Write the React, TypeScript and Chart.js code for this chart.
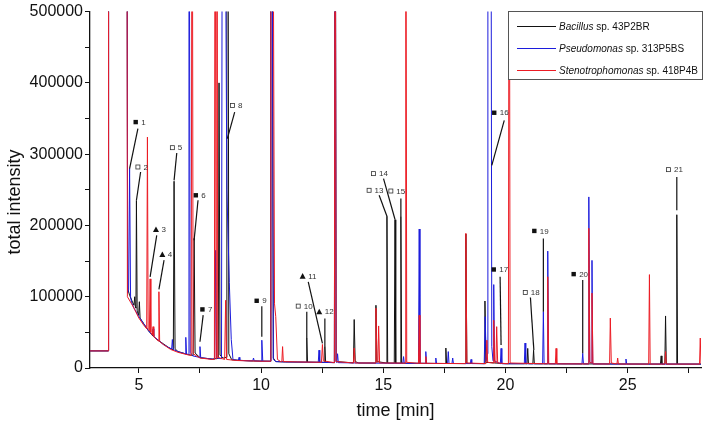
import React, { useEffect, useRef } from 'react';
import { Chart, registerables } from 'chart.js';

Chart.register(...registerables);

const X_MIN = 3;
const X_MAX = 28;
const Y_MIN = 0;
const Y_MAX = 500000;

const xTickValues = [5, 7.5, 10, 12.5, 15, 17.5, 20, 22.5, 25, 27.5];
const xTickLabels = ['5', '', '10', '', '15', '', '20', '', '25', ''];
const yTickValues = [0, 50000, 100000, 150000, 200000, 250000, 300000, 350000, 400000, 450000, 500000];
const yTickLabels = ['0', '', '100000', '', '200000', '', '300000', '', '400000', '', '500000'];

const xTitle = 'time [min]';
const yTitle = 'total intensity';

const seriesGenus = ['Bacillus', 'Pseudomonas', 'Stenotrophomonas'];
const seriesStrain = [' sp. 43P2BR', ' sp. 313P5BS', ' sp. 418P4B'];
const seriesColors = ['#121212', '#1c1cdc', '#ec1c24'];

// [time (min), total intensity]
const bacillusTrace: [number, number][] = [
  [3.0, 24000], [3.74, 24000], [3.76, 900000], [4.51, 900000], [4.54, 112000],
  [4.62, 102000], [4.72, 94000], [4.80, 88000], [4.83, 100000], [4.86, 85000],
  [4.88, 84000], [4.90, 235000], [4.93, 80000], [4.99, 74000], [5.02, 93000],
  [5.05, 70000], [5.2, 62000], [5.4, 52000], [5.6, 44000], [5.8, 38500],
  [6.0, 34000], [6.2, 29000], [6.41, 25500], [6.44, 262000], [6.48, 27000],
  [6.6, 23000], [7.0, 19000], [7.22, 17500], [7.26, 182000], [7.30, 21000],
  [7.5, 14500], [8.0, 12500], [8.25, 13500], [8.28, 400000], [8.32, 18000],
  [8.45, 14000], [8.57, 15000], [8.60, 900000], [8.64, 900000], [8.68, 20000], [8.8, 11500],
  [9.5, 10000], [10.37, 9500], [10.40, 900000], [10.44, 900000], [10.50, 14000], [10.6, 9000],
  [11.0, 8500], [11.84, 8200], [11.87, 42000], [11.90, 8200], [12.58, 8000],
  [12.61, 30000], [12.64, 8000], [13.0, 7500], [13.03, 900000], [13.07, 9000],
  [13.78, 7200], [13.81, 68000], [13.85, 9000], [14.0, 7000], [14.67, 7000], [14.70, 88000],
  [14.74, 9000], [15.12, 7000], [15.15, 213000], [15.18, 7000], [15.45, 6900],
  [15.48, 208000], [15.51, 6900], [15.69, 6800], [15.72, 212000], [15.75, 6800],
  [17.53, 6300], [17.56, 28000], [17.59, 6300], [18.35, 6200], [18.38, 188000],
  [18.42, 6500], [19.13, 6100], [19.16, 94000], [19.20, 8000], [20.0, 6000],
  [20.88, 6000], [20.91, 27500], [20.94, 6000], [21.12, 5900], [21.15, 25000],
  [21.18, 5900], [26.34, 5500], [26.37, 17000], [26.40, 5500], [26.52, 5500],
  [26.55, 73000], [26.58, 5500], [26.98, 5500], [27.01, 215000], [27.04, 5500], [28.0, 5500],
];

const pseudomonasTrace: [number, number][] = [
  [3.0, 24000], [3.74, 24000], [3.76, 900000], [4.51, 900000], [4.54, 105000],
  [4.58, 110000], [4.62, 280000], [4.66, 100000], [4.7, 92000], [4.8, 84000],
  [5.0, 72000], [5.2, 62000], [5.4, 52000], [5.55, 46000], [5.58, 55000],
  [5.61, 44000], [5.8, 39000], [6.0, 33000], [6.34, 26500], [6.37, 40000],
  [6.4, 26000], [6.6, 23000], [6.89, 20000], [6.92, 43000], [6.95, 19500],
  [7.02, 19000], [7.05, 900000], [7.10, 22000], [7.2, 17000], [7.47, 15000],
  [7.50, 30000], [7.53, 14500], [8.0, 12500], [8.1, 12500], [8.14, 165000],
  [8.18, 14000], [8.38, 13000], [8.42, 900000], [8.50, 900000], [8.60, 250000],
  [8.70, 120000], [8.78, 40000], [8.85, 12000], [9.07, 10500], [9.10, 15000],
  [9.13, 10500], [9.66, 10000], [9.69, 14000], [9.72, 10000], [10.0, 9500],
  [10.03, 39000], [10.07, 9500], [10.37, 9500], [10.40, 900000], [10.44, 900000], [10.50, 12000],
  [10.6, 9000], [11.0, 8500], [12.34, 8000], [12.37, 25000], [12.40, 8000],
  [13.0, 7500], [13.03, 900000], [13.07, 9000], [13.10, 8000], [13.13, 20000],
  [13.16, 7500], [14.0, 7000], [15.8, 6500], [15.83, 16000], [15.86, 6500],
  [16.44, 6500], [16.47, 195000], [16.50, 6500], [16.71, 6500], [16.74, 23000],
  [16.77, 6500], [17.12, 6300], [17.15, 14000], [17.18, 6300], [17.63, 6300],
  [17.66, 23000], [17.69, 6300], [17.81, 6300], [17.84, 14000], [17.87, 6300],
  [18.56, 6200], [18.59, 12000], [18.62, 6200], [19.13, 6100], [19.17, 72000],
  [19.21, 10000], [19.25, 20000], [19.28, 900000], [19.40, 900000], [19.44, 30000],
  [19.49, 10000], [19.52, 117000], [19.55, 10000], [19.79, 6000], [19.82, 27500],
  [19.85, 6000], [20.77, 6000], [20.80, 35000], [20.83, 6000], [21.52, 5900],
  [21.55, 79000], [21.58, 5900], [21.70, 5900], [21.73, 164000], [21.76, 5900],
  [23.13, 5700], [23.16, 20600], [23.19, 5700], [23.38, 5700], [23.41, 240000],
  [23.45, 8000], [23.51, 7000], [23.54, 151000], [23.57, 5700], [24.90, 5500],
  [24.93, 12600], [24.96, 5500], [28.0, 5500],
];

const stenotrophomonasTrace: [number, number][] = [
  [3.0, 24000], [3.74, 24000], [3.76, 900000], [4.51, 900000], [4.53, 100000],
  [4.7, 90000], [4.8, 84000], [5.0, 70000], [5.2, 60000], [5.32, 55000],
  [5.35, 324000], [5.38, 54000], [5.43, 52000], [5.46, 125000], [5.49, 50000],
  [5.55, 46000], [5.58, 58000], [5.61, 44000], [5.79, 38000], [5.82, 107000],
  [5.85, 37000], [6.0, 33000], [6.3, 26000], [6.6, 22000], [7.0, 18500],
  [7.14, 17500], [7.18, 900000], [7.22, 20000], [7.5, 14000], [8.0, 12000],
  [8.09, 12000], [8.12, 900000], [8.16, 13000], [8.19, 900000], [8.23, 15000],
  [8.51, 12000], [8.55, 95000], [8.59, 12000], [9.0, 10500], [10.0, 9500],
  [10.37, 9500], [10.40, 900000], [10.47, 900000], [10.55, 90000], [10.60, 72000],
  [10.67, 12000], [10.8, 9000], [10.85, 9000], [10.88, 30000], [10.91, 9000],
  [11.5, 8500], [12.47, 8000], [12.51, 33000], [12.55, 10000], [13.0, 7500],
  [13.03, 900000], [13.07, 9000], [13.78, 7000], [13.81, 28000], [13.85, 7000],
  [14.67, 7000], [14.70, 84000], [14.74, 9000], [14.78, 8000], [14.81, 59000],
  [14.85, 7000], [15.89, 6800], [15.92, 900000], [15.96, 8000], [16.44, 6500],
  [16.47, 74000], [16.50, 6500], [16.71, 6500], [16.74, 16000], [16.77, 6500],
  [18.35, 6200], [18.38, 189000], [18.42, 7000], [19.2, 6100], [19.24, 39000],
  [19.27, 8000], [19.49, 7000], [19.52, 67000], [19.56, 8000], [19.61, 7000],
  [19.64, 58000], [19.68, 7000], [20.12, 6000], [20.15, 900000], [20.19, 7000],
  [21.70, 5900], [21.73, 128000], [21.77, 5900], [22.04, 5800], [22.07, 27500],
  [22.10, 5800], [23.38, 5700], [23.41, 196000], [23.45, 8000], [23.51, 7000],
  [23.54, 105000], [23.58, 5700], [24.26, 5600], [24.29, 70000], [24.33, 7000],
  [24.56, 5600], [24.59, 14000], [24.62, 5600], [25.86, 5500], [25.89, 131000],
  [25.92, 5500], [26.52, 5500], [26.55, 23000], [26.58, 5500], [27.94, 5500],
  [27.97, 42000], [28.0, 5500],
];

// peak annotations
const annoNumber = ['1', '2', '3', '4', '5', '6', '7', '8', '9', '10', '11', '12', '13', '14', '15', '16', '17', '18', '19', '20', '21'];
const annoMarker = ['filled', 'open', 'tri', 'tri', 'open', 'filled', 'filled', 'open', 'filled', 'open', 'tri', 'tri', 'open', 'open', 'open', 'filled', 'filled', 'open', 'filled', 'filled', 'open'];
const annoLabelT = [4.87, 4.96, 5.70, 5.96, 6.37, 7.33, 7.60, 8.83, 9.82, 11.52, 11.70, 12.38, 14.42, 14.60, 15.31, 19.54, 19.52, 20.81, 21.18, 22.79, 26.67];
const annoLabelI = [345000, 282000, 194300, 159300, 309100, 242300, 82200, 368400, 94300, 86800, 129000, 78900, 249300, 272700, 248300, 358100, 138200, 106000, 192300, 131700, 278300];
const annoFromT = [4.96, 5.07, 5.73, 6.03, 6.55, 7.42, 7.63, 8.92, 10.03, 11.87, 11.93, 12.61, 14.83, 15.01, 15.72, 19.95, 19.78, 21.02, 21.55, 23.16, 27.01];
const annoFromI = [335700, 275000, 186000, 151300, 301600, 235300, 74200, 359000, 86800, 78900, 120900, 69600, 242300, 265700, 237700, 347400, 127900, 99000, 181700, 123300, 268000];
const annoToT = [4.62, 4.90, 5.46, 5.82, 6.44, 7.26, 7.50, 8.62, 10.03, 11.87, 12.51, 12.61, 15.15, 15.48, 15.72, 19.44, 19.82, 21.16, 21.55, 23.16, 27.01];
const annoToI = [279700, 235300, 127900, 110200, 263300, 179300, 36800, 321700, 43800, 41600, 34600, 29800, 212900, 208300, 212000, 284300, 32200, 25200, 78900, 20600, 221300];

const FONT = '"Liberation Sans", Arial, Helvetica, sans-serif';

const overlayPlugin = {
  id: 'overlay',
  afterDatasetsDraw(chart: any) {
    const ctx: CanvasRenderingContext2D = chart.ctx;
    const xs = chart.scales.x;
    const ys = chart.scales.y;
    ctx.save();

    // leader lines
    ctx.strokeStyle = '#111';
    ctx.lineWidth = 1.2;
    for (let i = 0; i < annoNumber.length; i++) {
      ctx.beginPath();
      ctx.moveTo(xs.getPixelForValue(annoFromT[i]), ys.getPixelForValue(annoFromI[i]));
      ctx.lineTo(xs.getPixelForValue(annoToT[i]), ys.getPixelForValue(annoToI[i]));
      ctx.stroke();
    }

    // markers + numbers
    ctx.font = `8px ${FONT}`;
    ctx.textBaseline = 'middle';
    ctx.textAlign = 'left';
    for (let i = 0; i < annoNumber.length; i++) {
      const px = xs.getPixelForValue(annoLabelT[i]);
      const py = ys.getPixelForValue(annoLabelI[i]);
      const m = annoMarker[i];
      ctx.fillStyle = '#111';
      ctx.strokeStyle = '#333';
      if (m === 'filled') {
        ctx.fillRect(px - 2.2, py - 2.2, 4.4, 4.4);
      } else if (m === 'open') {
        ctx.lineWidth = 0.8;
        ctx.strokeRect(px - 2, py - 2, 4, 4);
      } else {
        ctx.beginPath();
        ctx.moveTo(px - 3, py + 2.6);
        ctx.lineTo(px + 3, py + 2.6);
        ctx.lineTo(px, py - 3);
        ctx.closePath();
        ctx.fill();
      }
      ctx.fillStyle = '#333';
      ctx.fillText(annoNumber[i], px + 5.5, py + 0.5);
    }

    // legend
    const lx = 508.5, ly = 11.5, lw = 194, lh = 68;
    ctx.fillStyle = '#fff';
    ctx.fillRect(lx, ly, lw, lh);
    ctx.strokeStyle = '#555';
    ctx.lineWidth = 1;
    ctx.strokeRect(lx, ly, lw, lh);
    const rowY = [26, 48, 70];
    for (let i = 0; i < seriesGenus.length; i++) {
      ctx.strokeStyle = seriesColors[i];
      ctx.lineWidth = 1;
      ctx.beginPath();
      ctx.moveTo(517, rowY[i] + 0.5);
      ctx.lineTo(556, rowY[i] + 0.5);
      ctx.stroke();
      ctx.fillStyle = '#111';
      ctx.textBaseline = 'middle';
      ctx.font = `italic 10px ${FONT}`;
      ctx.fillText(seriesGenus[i], 559, rowY[i] + 1);
      const w = ctx.measureText(seriesGenus[i]).width;
      ctx.font = `10px ${FONT}`;
      ctx.fillText(seriesStrain[i], 559 + w, rowY[i] + 1);
    }

    // axis titles
    ctx.fillStyle = '#111';
    ctx.font = `18px ${FONT}`;
    ctx.textAlign = 'center';
    ctx.textBaseline = 'middle';
    ctx.fillText(xTitle, (chart.chartArea.left + chart.chartArea.right) / 2, 411);
    ctx.translate(15, 202);
    ctx.rotate(-Math.PI / 2);
    ctx.fillText(yTitle, 0, 0);

    ctx.restore();
  },
};

function toPoints(trace: [number, number][]) {
  return trace.map(([x, y]) => ({ x, y }));
}

export default function App() {
  const canvasRef = useRef<HTMLCanvasElement | null>(null);

  useEffect(() => {
    document.body.style.margin = '0';
    const canvas = canvasRef.current;
    if (!canvas) return;
    const traces = [bacillusTrace, pseudomonasTrace, stenotrophomonasTrace];
    const drawOrder = [2, 1, 0];
    const chart = new Chart(canvas, {
      type: 'line',
      data: {
        datasets: traces.map((t, i) => ({
          label: seriesGenus[i] + seriesStrain[i],
          data: toPoints(t),
          borderColor: seriesColors[i],
          backgroundColor: seriesColors[i],
          borderWidth: 1,
          pointRadius: 0,
          tension: 0,
          fill: false,
          order: drawOrder[i],
        })),
      },
      options: {
        animation: false,
        responsive: false,
        devicePixelRatio: 1,
        parsing: true,
        layout: { padding: { top: 11, right: 7, bottom: 0, left: 0 } },
        plugins: {
          legend: { display: false },
          tooltip: { enabled: false },
          title: { display: false },
        },
        scales: {
          x: {
            type: 'linear',
            min: X_MIN,
            max: X_MAX,
            afterBuildTicks: (scale: any) => {
              scale.ticks = xTickValues.map((v) => ({ value: v }));
            },
            afterFit: (scale: any) => {
              scale.height = 60;
            },
            ticks: {
              autoSkip: false,
              maxRotation: 0,
              minRotation: 0,
              padding: 3,
              color: '#111',
              font: { family: FONT, size: 16 },
              callback: (v: any) => {
                const idx = xTickValues.indexOf(Number(v));
                return idx >= 0 ? xTickLabels[idx] : '';
              },
            },
            grid: { drawOnChartArea: false, drawTicks: true, tickLength: 5, color: '#111', lineWidth: 1 },
            border: { display: true, color: '#111', width: 1.3 },
          },
          y: {
            type: 'linear',
            min: Y_MIN,
            max: Y_MAX,
            afterBuildTicks: (scale: any) => {
              scale.ticks = yTickValues.map((v) => ({ value: v }));
            },
            afterFit: (scale: any) => {
              scale.width = 90;
            },
            ticks: {
              autoSkip: false,
              padding: 2,
              color: '#111',
              font: { family: FONT, size: 16 },
              callback: (v: any) => {
                const idx = yTickValues.indexOf(Number(v));
                return idx >= 0 ? yTickLabels[idx] : '';
              },
            },
            grid: { drawOnChartArea: false, drawTicks: true, tickLength: 5, color: '#111', lineWidth: 1 },
            border: { display: true, color: '#111', width: 1.3 },
          },
        },
      },
      plugins: [overlayPlugin],
    });
    return () => chart.destroy();
  }, []);

  return (
    <div style={{ position: 'absolute', left: 0, top: 0, width: 708, height: 428, background: '#fff' }}>
      <canvas ref={canvasRef} width={708} height={428} style={{ display: 'block' }} />
    </div>
  );
}
